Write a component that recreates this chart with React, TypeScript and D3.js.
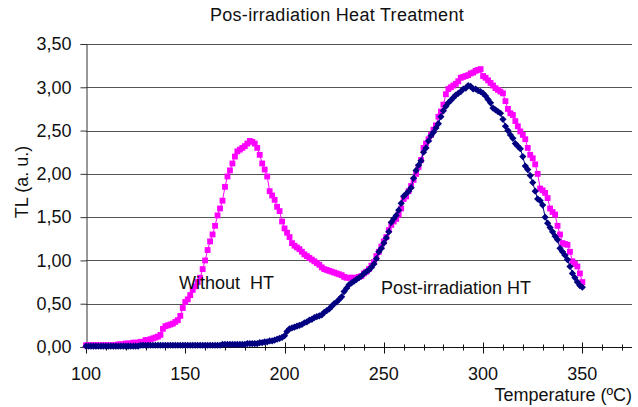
import React, { useEffect, useRef } from "react";
import * as d3 from "d3";

// temperatures sampled every 1.25 ºC from 100 to 350
const temperatures: number[] = d3.range(0, 201).map((i) => 100 + i * 1.25);

const withoutHT: number[] = [
  0.02, 0.02, 0.02, 0.02, 0.02, 0.02, 0.02, 0.02,
  0.02, 0.02, 0.02, 0.02, 0.02, 0.03, 0.03, 0.03,
  0.04, 0.04, 0.04, 0.05, 0.05, 0.05, 0.06, 0.06,
  0.08, 0.08, 0.09, 0.10, 0.11, 0.12, 0.14, 0.21,
  0.24, 0.25, 0.26, 0.27, 0.29, 0.31, 0.36, 0.45,
  0.52, 0.55, 0.60, 0.66, 0.70, 0.75, 0.80, 0.90,
  1.00, 1.12, 1.22, 1.30, 1.40, 1.52, 1.60, 1.69,
  1.85, 1.97, 2.04, 2.12, 2.20, 2.26, 2.28, 2.30,
  2.32, 2.35, 2.38, 2.37, 2.35, 2.30, 2.22, 2.12,
  2.05, 1.97, 1.80, 1.75, 1.70, 1.62, 1.57, 1.45,
  1.37, 1.32, 1.27, 1.20, 1.17, 1.15, 1.13, 1.10,
  1.07, 1.05, 1.03, 1.01, 0.99, 0.97, 0.95, 0.92,
  0.90, 0.89, 0.88, 0.87, 0.86, 0.85, 0.84, 0.83,
  0.81, 0.80, 0.80, 0.80, 0.80, 0.80, 0.81, 0.82,
  0.85, 0.87, 0.90, 0.94, 0.98, 1.05, 1.10, 1.16,
  1.22, 1.27, 1.35, 1.41, 1.45, 1.48, 1.53, 1.60,
  1.71, 1.74, 1.80, 1.86, 1.93, 2.00, 2.08, 2.16,
  2.30, 2.35, 2.40, 2.45, 2.51, 2.56, 2.66, 2.72,
  2.80, 2.92, 2.98, 3.00, 3.02, 3.04, 3.07, 3.11,
  3.12, 3.13, 3.14, 3.16, 3.17, 3.19, 3.20, 3.21,
  3.13, 3.11, 3.08, 3.05, 3.02, 2.99, 2.97, 2.95,
  2.93, 2.84, 2.75, 2.70, 2.68, 2.61, 2.55, 2.49,
  2.45, 2.40, 2.30, 2.22, 2.18, 2.11, 2.00, 1.83,
  1.81, 1.78, 1.72, 1.60, 1.56, 1.53, 1.40, 1.30,
  1.20, 1.19, 1.18, 1.10, 0.99, 0.96, 0.93, 0.85,
  0.75,
];

const postHT: number[] = [
  0.01, 0.01, 0.01, 0.01, 0.01, 0.01, 0.01, 0.01,
  0.01, 0.01, 0.01, 0.01, 0.01, 0.01, 0.01, 0.01,
  0.01, 0.01, 0.01, 0.01, 0.01, 0.01, 0.02, 0.02,
  0.02, 0.02, 0.02, 0.02, 0.02, 0.02, 0.02, 0.02,
  0.02, 0.02, 0.02, 0.02, 0.02, 0.02, 0.02, 0.02,
  0.02, 0.02, 0.02, 0.02, 0.02, 0.02, 0.02, 0.02,
  0.02, 0.02, 0.02, 0.02, 0.02, 0.02, 0.02, 0.03,
  0.03, 0.03, 0.03, 0.03, 0.03, 0.03, 0.03, 0.03,
  0.03, 0.04, 0.04, 0.04, 0.04, 0.04, 0.05, 0.05,
  0.06, 0.06, 0.07, 0.07, 0.08, 0.09, 0.10, 0.11,
  0.13, 0.18, 0.21, 0.22, 0.23, 0.24, 0.25, 0.26,
  0.28, 0.29, 0.31, 0.32, 0.34, 0.35, 0.36, 0.37,
  0.40, 0.42, 0.44, 0.47, 0.50, 0.52, 0.55, 0.58,
  0.64, 0.68, 0.72, 0.74, 0.76, 0.78, 0.80, 0.82,
  0.85, 0.87, 0.89, 0.92, 0.96, 1.02, 1.10, 1.14,
  1.20, 1.26, 1.33, 1.44, 1.48, 1.52, 1.58, 1.66,
  1.74, 1.77, 1.80, 1.84, 1.95, 2.04, 2.10, 2.15,
  2.25, 2.30, 2.38, 2.44, 2.48, 2.53, 2.58, 2.66,
  2.73, 2.78, 2.82, 2.85, 2.88, 2.91, 2.93, 2.95,
  2.98, 2.99, 3.02, 3.01, 2.98, 2.98, 2.96, 2.95,
  2.93, 2.90, 2.86, 2.82, 2.76, 2.74, 2.72, 2.70,
  2.63, 2.55, 2.50, 2.45, 2.41, 2.35, 2.32, 2.29,
  2.20, 2.09, 2.05, 1.98, 1.90, 1.80, 1.71, 1.69,
  1.64, 1.50, 1.43, 1.38, 1.33, 1.28, 1.24, 1.14,
  1.10, 1.06, 1.01, 0.93, 0.85, 0.80, 0.75, 0.71,
  0.69,
];

const yTicks = [0, 0.5, 1, 1.5, 2, 2.5, 3, 3.5];
const xTicks = [100, 150, 200, 250, 300, 350];

const App = () => {
  const ref = useRef<SVGSVGElement>(null);

  useEffect(() => {
    const svg = d3.select(ref.current);
    svg.selectAll("*").remove();

    const W = 638;
    const H = 407;
    const margin = { top: 44, right: 6, bottom: 60, left: 86 };
    const font = "'Liberation Sans', Arial, sans-serif";
    const fs = 18;

    const x = d3.scaleLinear().domain([100, 375]).range([margin.left, W - margin.right]);
    const y = d3.scaleLinear().domain([0, 3.5]).range([H - margin.bottom, margin.top]);

    // horizontal grid
    svg.append("g").selectAll("line").data(yTicks.slice(1)).enter().append("line")
      .attr("x1", margin.left).attr("x2", W - margin.right)
      .attr("y1", (d) => Math.round(y(d)) + 0.5).attr("y2", (d) => Math.round(y(d)) + 0.5)
      .attr("stroke", "#555").attr("stroke-width", 1);

    // y axis
    const yAxis = svg.append("g").attr("transform", `translate(${margin.left + 0.5},0)`)
      .call(d3.axisLeft(y).tickValues(yTicks).tickSize(6).tickPadding(9)
        .tickFormat((d) => d3.format(".2f")(d as number).replace(".", ",")));
    yAxis.select(".domain").attr("stroke", "#333");
    yAxis.selectAll(".tick line").attr("stroke", "#333");
    yAxis.selectAll("text").attr("font-family", font).attr("font-size", fs).attr("fill", "#111");

    // x axis with crossing ticks
    const xa = svg.append("g").attr("transform", `translate(0,${Math.round(y(0)) + 0.5})`);
    xa.append("line").attr("x1", margin.left).attr("x2", W - margin.right).attr("stroke", "#111");
    xa.selectAll(".minor").data(d3.range(100, 376, 10)).enter().append("line")
      .attr("x1", (d) => Math.round(x(d)) + 0.5).attr("x2", (d) => Math.round(x(d)) + 0.5)
      .attr("y1", (d) => (d % 50 === 0 ? -5 : -3)).attr("y2", (d) => (d % 50 === 0 ? 6 : 3))
      .attr("stroke", "#111");
    xa.selectAll(".lbl").data(xTicks).enter().append("text")
      .attr("x", (d) => x(d)).attr("y", 32).attr("text-anchor", "middle")
      .attr("font-family", font).attr("font-size", fs).attr("fill", "#111").text((d) => d);

    const drawSeries = (vals: number[], color: string, shape: "square" | "diamond") => {
      const pts = vals.map((v, i) => [temperatures[i], v] as [number, number]);
      svg.append("path").datum(pts)
        .attr("d", d3.line().x((d) => x(d[0])).y((d) => y(d[1])))
        .attr("fill", "none").attr("stroke", color).attr("stroke-width", 1);
      const sym = shape === "square"
        ? d3.symbol().type(d3.symbolSquare).size(34)
        : d3.symbol().type(d3.symbolSquare).size(26);
      svg.append("g").selectAll("path").data(pts).enter().append("path")
        .attr("d", sym)
        .attr("transform", (d) => `translate(${x(d[0])},${y(d[1])})${shape === "diamond" ? " rotate(45)" : ""}`)
        .attr("fill", color);
    };

    drawSeries(withoutHT, "#ff00ff", "square");
    drawSeries(postHT, "#000080", "diamond");

    // titles
    svg.append("text").attr("x", 337).attr("y", 21).attr("text-anchor", "middle")
      .attr("font-family", font).attr("font-size", fs).attr("fill", "#111")
      .attr("letter-spacing", 0.3).text("Pos-irradiation Heat Treatment");
    svg.append("text").attr("transform", "translate(28,182) rotate(-90)").attr("text-anchor", "middle")
      .attr("font-family", font).attr("font-size", fs).attr("fill", "#111").text("TL (a. u.)");
    svg.append("text").attr("x", 632).attr("y", 401).attr("text-anchor", "end")
      .attr("font-family", font).attr("font-size", fs).attr("fill", "#111").text("Temperature (ºC)");

    // annotations
    svg.append("text").attr("x", 179).attr("y", 289)
      .style("white-space", "pre")
      .attr("font-family", font).attr("font-size", fs).attr("fill", "#111").text("Without  HT");
    svg.append("text").attr("x", 381).attr("y", 294)
      .attr("font-family", font).attr("font-size", fs).attr("fill", "#111").text("Post-irradiation HT");
  }, []);

  return (
    <svg ref={ref} width={638} height={407}
      style={{ position: "absolute", left: 0, top: 0, background: "#fff" }} />
  );
};

export default App;
